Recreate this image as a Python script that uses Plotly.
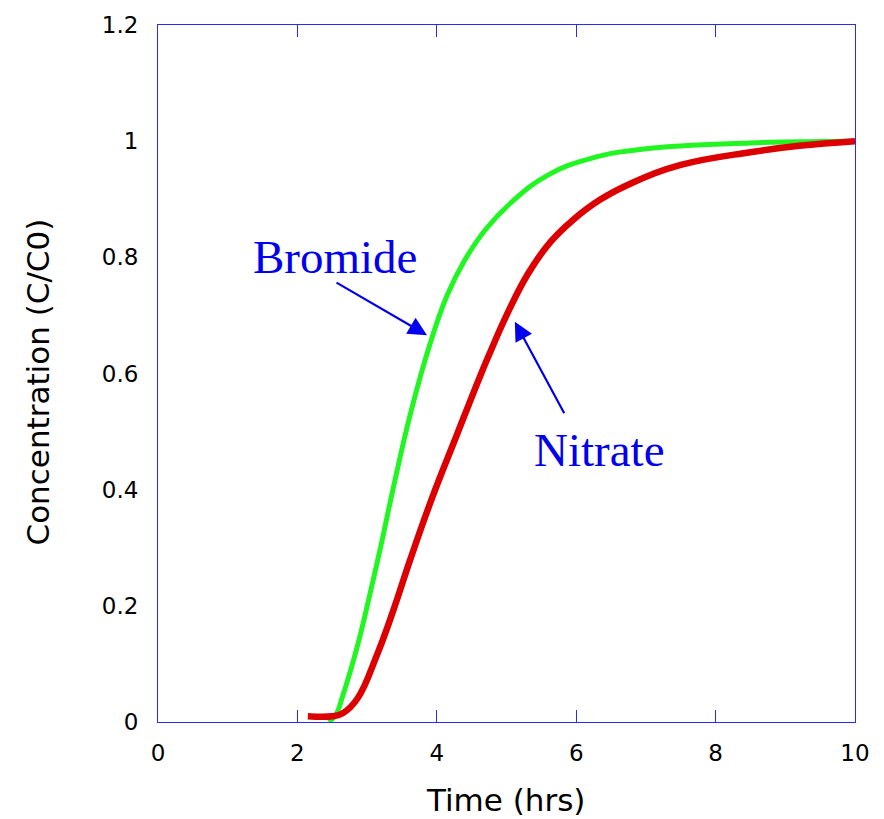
import plotly.graph_objects as go

# Data
bromide_x = [2.45, 2.55, 2.65, 2.87, 3.04, 3.21, 3.37, 3.62, 3.90, 4.15, 4.40, 4.70, 5.10, 5.60, 6.20, 7.00, 8.50, 10.0]
bromide_y = [0.0, 0.012, 0.045, 0.135, 0.22, 0.31, 0.40, 0.53, 0.65, 0.735, 0.795, 0.848, 0.898, 0.942, 0.970, 0.987, 0.997, 1.0]

nitrate_x = [2.15, 2.50, 2.65, 2.86, 3.14, 3.37, 3.62, 3.93, 4.29, 4.62, 4.76, 5.00, 5.30, 5.62, 5.95, 6.34, 6.80, 7.50, 8.50, 9.20, 10.0]
nitrate_y = [0.01, 0.01, 0.015, 0.04, 0.115, 0.19, 0.28, 0.385, 0.495, 0.595, 0.635, 0.70, 0.77, 0.825, 0.864, 0.899, 0.928, 0.959, 0.981, 0.992, 1.0]

x_ticks = [0, 2, 4, 6, 8, 10]
y_ticks = [0, 0.2, 0.4, 0.6, 0.8, 1.0, 1.2]
y_tick_labels = ["0", "0.2", "0.4", "0.6", "0.8", "1", "1.2"]

AX = "#2a2aff"
TICKFONT = dict(family="DejaVu Sans", size=23, color="black")

fig = go.Figure()
fig.add_trace(go.Scatter(x=bromide_x, y=bromide_y, mode="lines",
                         line=dict(color="#22f622", width=5, shape="spline", smoothing=1.2),
                         name="Bromide", showlegend=False))
fig.add_trace(go.Scatter(x=nitrate_x, y=nitrate_y, mode="lines",
                         line=dict(color="#dd0000", width=6.5, shape="spline", smoothing=1.2),
                         name="Nitrate", showlegend=False))

fig.update_layout(
    width=884, height=819,
    margin=dict(l=150, r=37, t=17, b=105),
    paper_bgcolor="white", plot_bgcolor="white",
    xaxis=dict(range=[0, 10], tickvals=x_ticks, ticktext=[str(v) for v in x_ticks],
               showgrid=False, zeroline=False, automargin=False,
               showline=True, linecolor=AX, linewidth=1, mirror="allticks",
               ticks="inside", ticklen=12, tickcolor=AX, tickwidth=1,
               tickfont=TICKFONT, ticklabelstandoff=10),
    yaxis=dict(range=[0, 1.2], tickvals=y_ticks, ticktext=y_tick_labels,
               showgrid=False, zeroline=False, automargin=False,
               showline=True, linecolor=AX, linewidth=1, mirror=True,
               ticks="", tickfont=TICKFONT, ticklabelstandoff=14),
    yaxis2=dict(range=[0, 1.2], tickvals=y_ticks, overlaying="y", side="right",
                showgrid=False, zeroline=False, showline=False, automargin=False,
                ticks="inside", ticklen=12, tickcolor=AX, tickwidth=1,
                showticklabels=False),
)

annotations = [
    dict(text="Time (hrs)", xref="paper", yref="paper", x=0.498, y=0,
         xanchor="center", yanchor="top", yshift=-58, showarrow=False,
         font=dict(family="DejaVu Sans", size=31, color="black")),
    dict(text="Concentration (C/C0)", xref="paper", yref="paper", x=0, y=0.5,
         xanchor="center", yanchor="middle", xshift=-121, yshift=-9, textangle=-90,
         showarrow=False, font=dict(family="DejaVu Sans", size=31, color="black")),
    dict(text="Bromide", x=2.54, y=0.80, xref="x", yref="y", showarrow=False,
         xanchor="center", yanchor="middle",
         font=dict(family="Liberation Serif", size=47, color="#0000ee")),
    dict(text="Nitrate", x=6.33, y=0.468, xref="x", yref="y", showarrow=False,
         xanchor="center", yanchor="middle",
         font=dict(family="Liberation Serif", size=47, color="#0000ee")),
    dict(text="", x=3.86, y=0.666, ax=2.54, ay=0.758, xref="x", yref="y",
         axref="x", ayref="y", showarrow=True, arrowhead=2, arrowsize=1.7,
         arrowwidth=2.2, arrowcolor="#0000ee"),
    dict(text="", x=5.12, y=0.689, ax=5.84, ay=0.529, xref="x", yref="y",
         axref="x", ayref="y", showarrow=True, arrowhead=2, arrowsize=1.7,
         arrowwidth=2.2, arrowcolor="#0000ee"),
]
fig.update_layout(annotations=annotations)

fig.write_html("out.html")
